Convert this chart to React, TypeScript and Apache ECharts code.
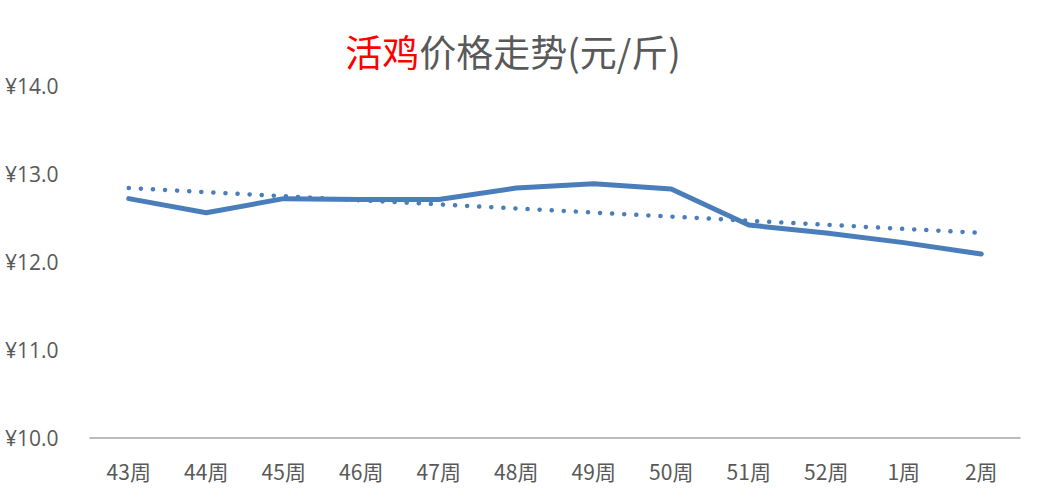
import React, { useEffect, useRef } from "react";
import * as echarts from "echarts";

const categories = ["43周", "44周", "45周", "46周", "47周", "48周", "49周", "50周", "51周", "52周", "1周", "2周"];
const prices = [12.72, 12.56, 12.72, 12.71, 12.71, 12.84, 12.89, 12.83, 12.42, 12.33, 12.22, 12.09];
const trendEnds = [12.84, null, null, null, null, null, null, null, null, null, null, 12.33];
const yTicks = { min: 10, max: 14, interval: 1 };

export default function App() {
  const ref = useRef<HTMLDivElement>(null);
  useEffect(() => {
    if (!ref.current) return;
    const chart = echarts.init(ref.current, undefined, { renderer: "svg" });
    const blue = "#4A7EBB";
    chart.setOption({
      animation: false,
      backgroundColor: "#ffffff",
      title: {
        text: "{r|活鸡}{g|价格走势(元/斤)}",
        left: 508,
        top: 27,
        textAlign: "center",
        textStyle: {
          fontWeight: "normal",
          rich: {
            r: { color: "#FF0000", fontSize: 37, fontWeight: "normal", fontFamily: "Noto Sans CJK SC" },
            g: { color: "#595959", fontSize: 37, fontWeight: "normal", fontFamily: "Noto Sans CJK SC" },
          },
        },
      },
      grid: { left: 90, right: 17, top: 86, bottom: 62, containLabel: false },
      xAxis: {
        type: "category",
        data: categories,
        boundaryGap: true,
        axisLine: { lineStyle: { color: "#A6A6A6", width: 1.5 } },
        axisTick: { show: false },
        axisLabel: { color: "#595959", fontSize: 21, margin: 22, fontFamily: "Noto Sans CJK SC" },
      },
      yAxis: {
        type: "value",
        min: yTicks.min,
        max: yTicks.max,
        interval: yTicks.interval,
        splitLine: { show: false },
        axisLine: { show: false },
        axisTick: { show: false },
        axisLabel: {
          color: "#595959",
          fontSize: 21,
          fontFamily: "Open Sans",
          align: "left",
          margin: 85,
          formatter: (v: number) => "¥" + v.toFixed(1),
        },
      },
      series: [
        {
          type: "line",
          data: prices,
          symbol: "none",
          lineStyle: { color: blue, width: 5, cap: "round", join: "round" },
          z: 3,
        },
        {
          type: "line",
          data: trendEnds,
          connectNulls: true,
          symbol: "none",
          lineStyle: { color: blue, width: 4.5, type: [0.1, 12], cap: "round" },
          z: 2,
        },
      ],
    });
    return () => chart.dispose();
  }, []);
  return (
    <div
      ref={ref}
      style={{ position: "absolute", left: 0, top: 0, width: 1037, height: 500 }}
    />
  );
}
